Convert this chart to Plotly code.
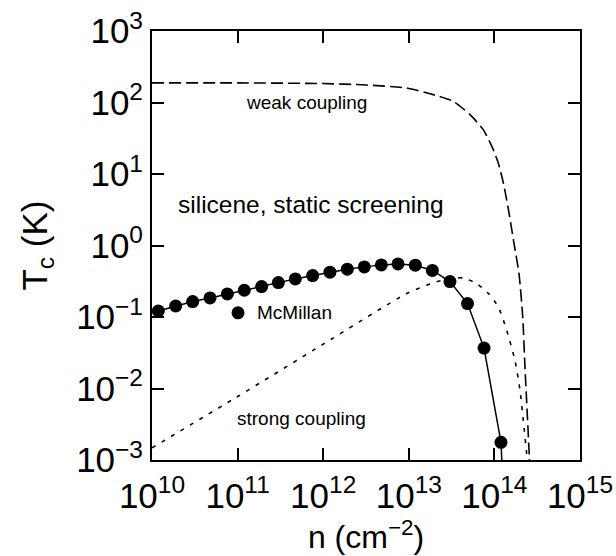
import plotly.graph_objects as go

# McMillan T_c versus carrier density (log10 n, log10 T_c)
mcm_logn = [10.074, 10.277, 10.475, 10.678, 10.880, 11.078, 11.281, 11.476, 11.674,
            11.877, 12.079, 12.282, 12.480, 12.679, 12.874, 13.076, 13.275, 13.481,
            13.686, 13.879, 14.077]
mcm_logt = [-0.916, -0.846, -0.784, -0.733, -0.677, -0.626, -0.574, -0.518, -0.467,
            -0.420, -0.373, -0.331, -0.299, -0.271, -0.257, -0.275, -0.349, -0.504,
            -0.812, -1.435, -2.753]
# continuation of the McMillan line below the lower axis limit
mcm_tail_logn = [14.077, 14.098]
mcm_tail_logt = [-2.753, -3.30]

# weak-coupling curve
weak_logn = [10.0, 11.0, 12.0, 12.5, 12.975, 13.248, 13.52, 13.715, 13.87, 13.987,
             14.046, 14.10, 14.16, 14.229, 14.287, 14.331, 14.357, 14.384, 14.408, 14.415]
weak_logt = [2.274, 2.274, 2.265, 2.245, 2.203, 2.123, 2.016, 1.83, 1.62, 1.34,
             1.15, 0.90, 0.53, 0.029, -0.391, -1.0, -1.70, -2.355, -2.96, -3.3]

# strong-coupling curve
strong_logn = [10.0, 10.99, 12.0, 12.975, 13.29, 13.45, 13.55, 13.64, 13.79, 13.93,
               14.046, 14.144, 14.24, 14.30, 14.338, 14.377, 14.39]
strong_logt = [-2.83, -2.12, -1.38, -0.672, -0.52, -0.47, -0.452, -0.455, -0.53, -0.672,
               -0.86, -1.187, -1.607, -2.03, -2.45, -2.916, -3.2]

x_ticks = [1e10, 1e11, 1e12, 1e13, 1e14, 1e15]
x_ticktext = ["10<sup>10</sup>", "10<sup>11</sup>", "10<sup>12</sup>",
              "10<sup>13</sup>", "10<sup>14</sup>", "10<sup>15</sup>"]
y_ticks = [1e-3, 1e-2, 1e-1, 1e0, 1e1, 1e2, 1e3]
y_ticktext = ["10<sup>\u22123</sup>", "10<sup>\u22122</sup>", "10<sup>\u22121</sup>",
              "10<sup>0</sup>", "10<sup>1</sup>", "10<sup>2</sup>", "10<sup>3</sup>"]


def p10(vals):
    return [10 ** v for v in vals]


FONT = "Liberation Sans, Arial, sans-serif"

fig = go.Figure()

fig.add_trace(go.Scatter(
    x=p10(weak_logn), y=p10(weak_logt), mode="lines", showlegend=False,
    line=dict(color="black", width=1.6, dash="12px,5px", shape="spline", smoothing=0.6),
))
fig.add_trace(go.Scatter(
    x=p10(strong_logn), y=p10(strong_logt), mode="lines", showlegend=False,
    line=dict(color="black", width=1.6, dash="4px,7px", shape="spline", smoothing=0.6),
))
fig.add_trace(go.Scatter(
    x=p10(mcm_tail_logn), y=p10(mcm_tail_logt), mode="lines", showlegend=False,
    line=dict(color="black", width=1.5),
))
fig.add_trace(go.Scatter(
    x=p10(mcm_logn), y=p10(mcm_logt), mode="lines+markers", showlegend=False,
    line=dict(color="black", width=1.5),
    marker=dict(color="black", size=13, symbol="circle"),
))

# key for the McMillan points: a filled dot followed by its label
key_x, key_y = 0.201, 0.343
fig.add_shape(type="circle", xref="paper", yref="paper",
              xsizemode="pixel", ysizemode="pixel",
              xanchor=key_x, yanchor=key_y, x0=-6.5, x1=6.5, y0=-6.5, y1=6.5,
              fillcolor="black", line=dict(color="black", width=0))
fig.add_annotation(x=0.2407, y=key_y, xref="paper", yref="paper",
                   xanchor="left", yanchor="middle",
                   text="McMillan", showarrow=False,
                   font=dict(size=19, color="black", family=FONT))

fig.add_annotation(x=0.372, y=0.596, xref="paper", yref="paper",
                   xanchor="center", yanchor="middle",
                   text="silicene, static screening", showarrow=False,
                   font=dict(size=24.5, color="black", family=FONT))
fig.add_annotation(x=0.36, y=0.834, xref="paper", yref="paper",
                   xanchor="center", yanchor="middle",
                   text="weak coupling", showarrow=False,
                   font=dict(size=19, color="black", family=FONT))
fig.add_annotation(x=0.35, y=0.097, xref="paper", yref="paper",
                   xanchor="center", yanchor="middle",
                   text="strong coupling", showarrow=False,
                   font=dict(size=19, color="black", family=FONT))

axis_common = dict(
    type="log", showgrid=False, zeroline=False, automargin=False,
    showline=True, linecolor="black", linewidth=2, mirror="allticks",
    ticks="inside", ticklen=12, tickwidth=1.5, tickcolor="black",
    tickmode="array",
    tickfont=dict(size=35, color="black", family=FONT),
)

fig.update_xaxes(
    **axis_common, range=[10, 15], tickvals=x_ticks, ticktext=x_ticktext,
    ticklabelstandoff=4,
    title=dict(text="n (cm<sup>\u22122</sup>)", font=dict(size=32, color="black", family=FONT),
               standoff=2),
)
fig.update_yaxes(
    **axis_common, range=[-3, 3], tickvals=y_ticks, ticktext=y_ticktext,
    title=dict(text="T<sub>c</sub> (K)", font=dict(size=35, color="black", family=FONT),
               standoff=18),
)

fig.update_layout(
    width=616, height=556,
    margin=dict(l=152, r=36, t=31, b=96),
    paper_bgcolor="white", plot_bgcolor="white",
    font=dict(family=FONT, color="black"),
    showlegend=False,
)

fig.write_html("out.html")
